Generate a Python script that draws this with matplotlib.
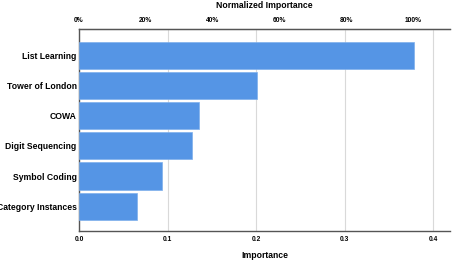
import matplotlib
matplotlib.use("Agg")
import matplotlib.pyplot as plt
import numpy as np

# dados
variaveis = ["List Learning", "Tower of London", "COWA", "Digit Sequencing",
             "Symbol Coding", "Category Instances"]
importancia = [0.378, 0.2015, 0.135, 0.128, 0.094, 0.0655]

AZUL = "#5595E5"
GRADE = "#d9d9d9"
EIXO = "#555555"

plt.rcParams["font.family"] = ["Liberation Sans", "DejaVu Sans"]

fig = plt.figure(figsize=(4.54, 2.61), dpi=100)
ax = fig.add_axes([0.174, 0.115, 0.817, 0.772])

y = np.arange(len(variaveis))
ax.barh(y, importancia, height=0.9, color=AZUL, edgecolor="#7fb0ec", lw=0.5, zorder=3)
ax.set_ylim(5.82, -0.85)
ax.set_xlim(0, 0.419)

ax.set_yticks(y)
ax.set_yticklabels(variaveis, fontsize=6.2, fontweight="bold")
ax.set_xticks([0.0, 0.1, 0.2, 0.3, 0.4])
ax.set_xticklabels(["0.0", "0.1", "0.2", "0.3", "0.4"], fontsize=4.8, fontweight="bold")
ax.tick_params(length=0, pad=3.5)
ax.tick_params(axis="y", pad=1.7)
ax.grid(axis="x", color=GRADE, lw=0.8, zorder=0)
ax.set_xlabel("Importance", fontsize=6.2, fontweight="bold", labelpad=6)

for s in ["left", "bottom", "top"]:
    ax.spines[s].set_color(EIXO)
    ax.spines[s].set_linewidth(1.0)
ax.spines["right"].set_visible(False)

# eixo de cima: importância normalizada
maximo = max(importancia)
top = ax.secondary_xaxis("top", functions=(lambda v: v / maximo * 100,
                                           lambda p: p * maximo / 100))
top.set_xticks([0, 20, 40, 60, 80, 100])
top.set_xticklabels(["0%", "20%", "40%", "60%", "80%", "100%"], fontsize=4.8, fontweight="bold")
top.tick_params(length=0, pad=4)
top.spines["top"].set_color(EIXO)
top.set_xlabel("Normalized Importance", fontsize=6.2, fontweight="bold", labelpad=6.5)

fig.savefig("out.png", dpi=100)
